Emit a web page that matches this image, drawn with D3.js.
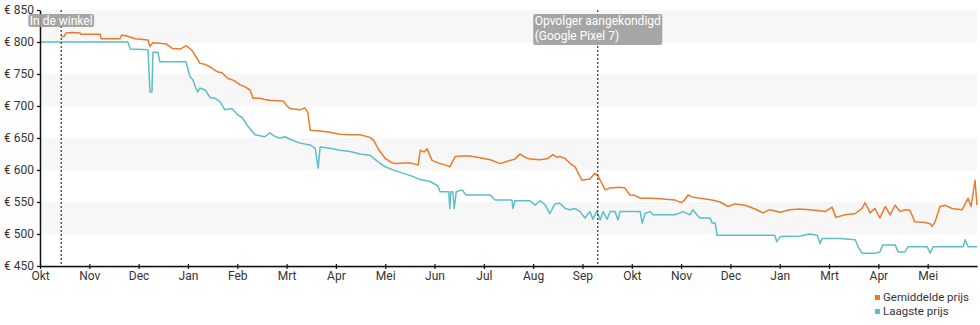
<!DOCTYPE html>
<html>
<head>
<meta charset="utf-8">
<script src="https://cdn.jsdelivr.net/npm/d3@7"></script>
<style>
  html, body { margin: 0; padding: 0; background: #fff; }
  svg { display: block; font-family: Roboto, "Noto Sans", sans-serif; }
</style>
</head>
<body>
<svg id="chart" width="980" height="325"></svg>
<script>
// Time is measured in months since 1 October 2021.
const tickLabels = ["Okt", "Nov", "Dec", "Jan", "Feb", "Mrt", "Apr", "Mei", "Jun", "Jul",
                    "Aug", "Sep", "Okt", "Nov", "Dec", "Jan", "Mrt", "Apr", "Mei"];
const priceTicks = [450, 500, 550, 600, 650, 700, 750, 800, 850];

// Gemiddelde prijs (average price)
const avgMonths = [0.43, 0.49, 0.53, 0.65, 0.81, 0.83, 1.22, 1.24, 1.62, 1.66, 1.78, 1.93, 2.09, 2.19, 2.23, 2.29,
  2.43, 2.56, 2.68, 2.84, 2.96, 3.04, 3.10, 3.18, 3.24, 3.35, 3.45, 3.53, 3.61, 3.69, 3.81, 3.93,
  4.06, 4.16, 4.26, 4.32, 4.46, 4.56, 4.66, 4.87, 4.93, 5.01, 5.07, 5.27, 5.37, 5.43, 5.48, 5.68,
  5.88, 6.08, 6.29, 6.49, 6.69, 6.77, 6.85, 7.00, 7.10, 7.20, 7.40, 7.50, 7.67, 7.71, 7.79, 7.85,
  7.95, 8.11, 8.21, 8.31, 8.42, 8.56, 8.72, 8.92, 9.13, 9.33, 9.53, 9.63, 9.73, 9.83, 9.94, 10.14,
  10.30, 10.40, 10.48, 10.54, 10.65, 10.75, 10.85, 10.95, 10.99, 11.15, 11.25, 11.32, 11.36, 11.46,
  11.56, 11.76, 11.86, 11.96, 12.07, 12.17, 12.37, 12.57, 12.88, 13.00, 13.06, 13.14, 13.22, 13.38,
  13.63, 13.79, 13.95, 14.09, 14.30, 14.50, 14.66, 14.80, 15.01, 15.21, 15.41, 15.72, 15.92, 16.06,
  16.14, 16.32, 16.53, 16.67, 16.73, 16.79, 16.83, 16.93, 17.03, 17.14, 17.24, 17.34, 17.44, 17.54,
  17.64, 17.74, 17.95, 18.05, 18.09, 18.15, 18.25, 18.35, 18.49, 18.70, 18.82, 18.88, 18.96, 19.00];
const avgPrices = [808, 809, 814, 815, 814, 812, 812, 805, 805, 811, 809, 805, 804, 803, 793, 799,
  798, 797, 790, 789, 794, 790, 785, 775, 767, 765, 761, 757, 753, 752, 743, 740,
  733, 730, 725, 712, 712, 710, 709, 708, 708, 700, 696, 694, 697, 690, 662, 661,
  659, 656, 655, 655, 651, 646, 634, 618, 613, 610, 611, 611, 608, 631, 628, 633,
  615, 610, 608, 605, 621, 622, 622, 619, 616, 610, 615, 617, 625, 620, 617, 616,
  618, 624, 620, 621, 618, 610, 605, 590, 584, 586, 595, 590, 584, 569,
  572, 573, 572, 561, 560, 556, 556, 555, 553, 549, 552, 561, 558, 556,
  553, 550, 543, 547, 545, 539, 533, 538, 534, 538, 539, 537, 535, 542,
  526, 530, 532, 540, 549, 540, 533, 540, 525, 543, 530, 545, 535, 538,
  537, 519, 518, 516, 512, 519, 543, 545, 540, 538, 556, 543, 584, 545];

// Laagste prijs (lowest price)
const lowMonths = [0, 1.78, 1.83, 2.19, 2.23, 2.27, 2.29, 2.39, 2.43, 2.96, 3.04, 3.10, 3.16, 3.20, 3.24, 3.35,
  3.45, 3.55, 3.65, 3.75, 3.89, 4.01, 4.10, 4.20, 4.36, 4.56, 4.66, 4.77, 4.87, 4.97, 5.07, 5.27,
  5.48, 5.58, 5.64, 5.68, 5.88, 6.08, 6.29, 6.49, 6.69, 6.85, 7.00, 7.20, 7.40, 7.56, 7.71, 7.91,
  8.07, 8.11, 8.29, 8.31, 8.33, 8.37, 8.40, 8.44, 8.56, 8.64, 9.13, 9.23, 9.57, 9.59, 9.63, 9.94,
  10.04, 10.14, 10.24, 10.34, 10.44, 10.54, 10.65, 10.75, 10.85, 10.95, 11.05, 11.15, 11.21, 11.29,
  11.36, 11.42, 11.50, 11.56, 11.66, 11.72, 11.76, 12.17, 12.21, 12.27, 12.37, 12.43, 12.88, 13.04,
  13.18, 13.24, 13.32, 13.38, 13.59, 13.63, 13.69, 13.73, 14.90, 14.94, 15.01, 15.41, 15.61, 15.76,
  15.82, 15.86, 16.22, 16.53, 16.59, 16.67, 16.93, 17.03, 17.09, 17.34, 17.40, 17.54, 17.60, 17.99,
  18.05, 18.11, 18.72, 18.76, 18.82, 19.00];
const lowPrices = [800, 800, 789, 788, 722, 722, 784, 784, 769, 769, 746, 741, 728, 722, 728, 725,
  713, 712, 707, 694, 696, 686, 682, 670, 655, 652, 658, 652, 650, 652, 648, 642,
  639, 634, 603, 636, 634, 631, 629, 625, 623, 613, 605, 599, 594, 590, 585, 582,
  575, 566, 566, 540, 566, 566, 540, 566, 569, 561, 561, 553, 553, 540, 552, 552,
  545, 552, 546, 532, 547, 548, 540, 538, 540, 535, 525, 535, 523, 536,
  522, 535, 523, 535, 535, 522, 535, 535, 517, 532, 535, 530, 530, 535,
  530, 538, 530, 525, 525, 517, 517, 498, 498, 488, 496, 497, 500, 498,
  485, 493, 493, 491, 480, 470, 470, 472, 483, 483, 472, 472, 480, 480,
  470, 480, 480, 491, 480, 480];

// Events marked with a dotted line
const eventMonths = [0.43, 11.31];
const eventLabels = [["In de winkel"], ["Opvolger aangekondigd", "(Google Pixel 7)"]];

const seriesNames = ["Gemiddelde prijs", "Laagste prijs"];
const seriesColors = ["#ea7b2c", "#5bbfc6"];

(function draw() {
  const svg = d3.select("#chart");
  const plotLeft = 40, plotRight = 977, plotTop = 10, plotBottom = 266;

  const x = d3.scaleLinear().domain([0, tickLabels.length]).range([plotLeft, plotRight]);
  const y = d3.scaleLinear().domain([450, 850]).range([plotBottom, plotTop]);

  // Alternating horizontal bands
  const bandStarts = [500, 600, 700, 800];
  svg.append("g").selectAll("rect").data(bandStarts).join("rect")
    .attr("x", plotLeft).attr("width", plotRight - plotLeft)
    .attr("y", d => y(d + 50)).attr("height", d => y(d) - y(d + 50))
    .attr("fill", "#f7f7f7");

  // Price lines
  const avgData = avgMonths.map((m, i) => [m, avgPrices[i]]);
  const lowData = lowMonths.map((m, i) => [m, lowPrices[i]]);
  const line = d3.line().x(d => x(d[0])).y(d => y(d[1]));

  svg.append("path").datum(lowData).attr("d", line)
    .attr("fill", "none").attr("stroke", seriesColors[1]).attr("stroke-width", 1.5)
    .attr("stroke-linejoin", "round");
  svg.append("path").datum(avgData).attr("d", line)
    .attr("fill", "none").attr("stroke", seriesColors[0]).attr("stroke-width", 1.5)
    .attr("stroke-linejoin", "round");

  // Event lines
  svg.append("g").selectAll("line").data(eventMonths).join("line")
    .attr("x1", d => x(d)).attr("x2", d => x(d))
    .attr("y1", plotTop).attr("y2", plotBottom)
    .attr("stroke", "#333").attr("stroke-width", 1.2).attr("stroke-dasharray", "2,2");

  // Y axis
  const yAxis = svg.append("g").attr("transform", `translate(${plotLeft},0)`)
    .call(d3.axisLeft(y).tickValues(priceTicks).tickSize(3).tickSizeOuter(0).tickPadding(3)
      .tickFormat(d => "€ " + d));
  yAxis.select(".domain").attr("stroke", "#111").attr("stroke-width", 1.5);
  yAxis.selectAll(".tick line").attr("stroke", "#111").attr("stroke-width", 1.2);
  yAxis.selectAll(".tick text").attr("font-size", 12).attr("fill", "#333")
    .attr("font-family", "Roboto, sans-serif");

  // X axis: daily minor ticks, then month ticks
  const days = d3.range(0, tickLabels.length * 30.44, 1).map(d => d / 30.44);
  svg.append("g").selectAll("line").data(days).join("line")
    .attr("x1", d => x(d)).attr("x2", d => x(d))
    .attr("y1", plotBottom).attr("y2", plotBottom + 2)
    .attr("stroke", "#aaa").attr("stroke-width", 0.6);

  const xAxis = svg.append("g").attr("transform", `translate(0,${plotBottom})`)
    .call(d3.axisBottom(x).tickValues(d3.range(tickLabels.length)).tickSize(3).tickSizeOuter(0)
      .tickPadding(2).tickFormat((d, i) => tickLabels[i]));
  xAxis.select(".domain").attr("stroke", "#111").attr("stroke-width", 1.5);
  xAxis.selectAll(".tick line").attr("y1", -2).attr("stroke", "#111").attr("stroke-width", 1.2);
  xAxis.selectAll(".tick text").attr("font-size", 12).attr("fill", "#333")
    .attr("font-family", "Roboto, sans-serif");

  // Event labels
  eventMonths.forEach((m, i) => {
    const g = svg.append("g");
    const lines = eventLabels[i];
    const t = g.append("text").attr("font-size", 12).attr("fill", "#fff");
    lines.forEach((s, j) => {
      t.append("tspan").attr("x", 0).attr("y", 10 + j * 15).text(s);
    });
    const w = t.node().getBBox().width;
    const bx = x(m) - (w + 3) / 2;
    g.insert("rect", "text")
      .attr("x", -1.5).attr("y", -1).attr("width", w + 3)
      .attr("height", lines.length * 15 + (lines.length > 1 ? 1 : -2))
      .attr("rx", 2).attr("fill", "#9e9e9e").attr("fill-opacity", 0.92);
    g.attr("transform", `translate(${bx + 1.5},15)`);
  });

  // Legend
  const legend = svg.append("g").attr("transform", "translate(875,293)");
  seriesNames.forEach((name, i) => {
    legend.append("rect").attr("x", 0).attr("y", 2 + i * 14).attr("width", 5).attr("height", 5)
      .attr("fill", seriesColors[i]);
    legend.append("text").attr("x", 8).attr("y", 8 + i * 14).attr("font-size", 11.5)
      .attr("fill", "#333").text(name);
  });
})();
</script>
</body>
</html>
